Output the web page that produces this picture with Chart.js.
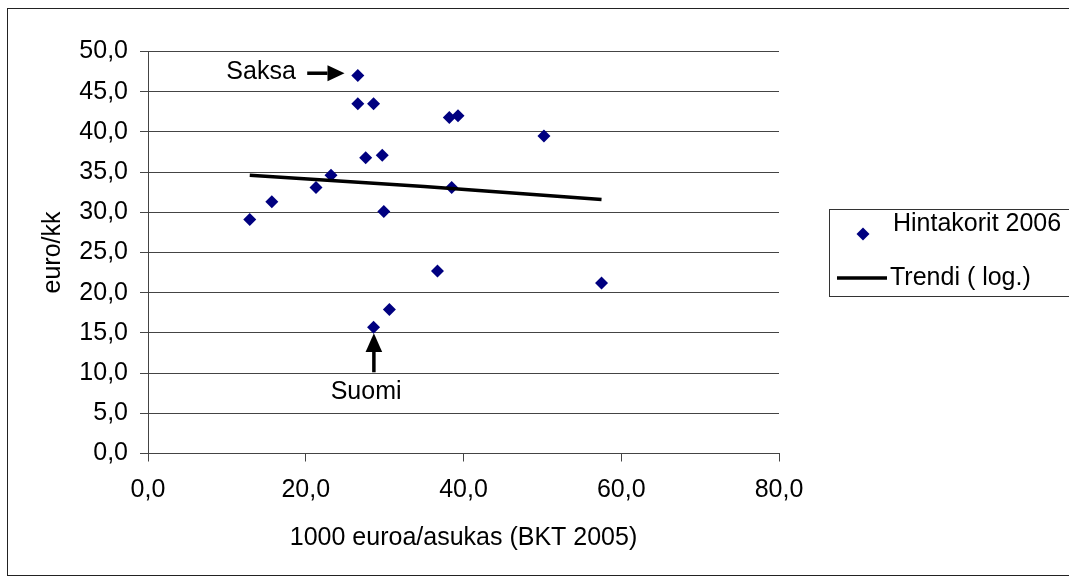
<!DOCTYPE html>
<html><head><meta charset="utf-8">
<script src="https://cdn.jsdelivr.net/npm/chart.js@4.4.1/dist/chart.umd.min.js"></script>
<style>html,body{margin:0;padding:0;background:#fff;}canvas{display:block;}</style>
</head><body>
<canvas id="c" width="1069" height="581"></canvas>
<script>
// GDP per capita (1000 EUR, 2005) and monthly price basket (EUR/month, 2006)
const gdpX = [12.9, 15.7, 21.3, 23.2, 26.6, 26.6, 28.6, 27.6, 29.7, 29.9, 38.2, 39.3, 38.5, 50.2, 36.7, 57.5, 30.6, 28.6];
const basketY = [29.1, 31.3, 33.1, 34.6, 47.0, 43.5, 43.5, 36.8, 37.1, 30.1, 41.8, 42.0, 33.1, 39.5, 22.7, 21.2, 17.9, 15.7];
// Logarithmic trend line as drawn in the original
const trendX = [12.9, 35, 57.5];
const trendY = [34.6, 33.2, 31.6];
const xTicks = [0, 20, 40, 60, 80];
const yTicks = [0, 5, 10, 15, 20, 25, 30, 35, 40, 45, 50];
const seriesNames = ['Hintakorit 2006', 'Trendi ( log.)'];
const xTitle = '1000 euroa/asukas (BKT 2005)';
const yTitle = 'euro/kk';
const calloutLabels = ['Saksa', 'Suomi'];
const calloutPoint = [4, 17];

const FONT = "'Liberation Sans', Arial, sans-serif";
const FSIZE = 25;
const fmt = v => Number(v).toFixed(1).replace('.', ',');
const NAVY = '#000080';
const GRID = '#444444';

function arrow(ctx, x1, y1, x2, y2, head, half) {
  const ang = Math.atan2(y2 - y1, x2 - x1);
  const bx = x2 - head * Math.cos(ang), by = y2 - head * Math.sin(ang);
  ctx.save();
  ctx.strokeStyle = '#000'; ctx.fillStyle = '#000'; ctx.lineWidth = 3.5;
  ctx.beginPath(); ctx.moveTo(x1, y1); ctx.lineTo(bx, by); ctx.stroke();
  ctx.beginPath();
  ctx.moveTo(x2, y2);
  ctx.lineTo(bx + half * Math.sin(ang), by - half * Math.cos(ang));
  ctx.lineTo(bx - half * Math.sin(ang), by + half * Math.cos(ang));
  ctx.closePath(); ctx.fill();
  ctx.restore();
}

const decor = {
  id: 'decor',
  afterDraw(chart) {
    const ctx = chart.ctx;
    const xs = chart.scales.x, ys = chart.scales.y;
    ctx.save();
    // outer frame
    ctx.strokeStyle = '#222'; ctx.lineWidth = 1;
    ctx.strokeRect(7.5, 8.5, 1080, 567);
    ctx.font = FSIZE + 'px ' + FONT;
    ctx.fillStyle = '#000';
    ctx.textBaseline = 'alphabetic';
    // callouts
    calloutLabels.forEach((lab, k) => {
      const i = calloutPoint[k];
      const px = xs.getPixelForValue(gdpX[i]);
      const py = ys.getPixelForValue(basketY[i]);
      if (k === 0) {
        ctx.textAlign = 'right';
        ctx.fillText(lab, px - 62, py + 3.6);
        arrow(ctx, px - 50.6, py - 2.4, px - 13.3, py - 2.4, 17, 8);
      } else {
        ctx.textAlign = 'center';
        ctx.fillText(lab, px - 7.5, py + 71.3);
        arrow(ctx, px + 0.3, py + 45, px + 0.3, py + 6, 18.7, 8.3);
      }
    });
    // legend
    ctx.strokeStyle = '#333'; ctx.lineWidth = 1;
    ctx.strokeRect(829.5, 209.5, 300, 87);
    ctx.fillStyle = NAVY;
    ctx.beginPath();
    ctx.moveTo(863 - 6.5, 234); ctx.lineTo(863, 234 - 6.5); ctx.lineTo(863 + 6.5, 234); ctx.lineTo(863, 234 + 6.5);
    ctx.closePath(); ctx.fill();
    ctx.strokeStyle = '#000'; ctx.lineWidth = 3.5;
    ctx.beginPath(); ctx.moveTo(837, 278); ctx.lineTo(887, 278); ctx.stroke();
    ctx.fillStyle = '#000'; ctx.textAlign = 'left';
    ctx.fillText(seriesNames[0], 893, 231);
    ctx.fillText(seriesNames[1], 890, 285);
    ctx.restore();
  }
};

new Chart(document.getElementById('c'), {
  type: 'scatter',
  data: {
    datasets: [
      {
        label: seriesNames[0],
        data: gdpX.map((x, i) => ({x: x, y: basketY[i]})),
        pointStyle: 'rectRot', pointRadius: 6.5, pointBorderWidth: 0,
        backgroundColor: NAVY, borderColor: NAVY, order: 1
      },
      {
        label: seriesNames[1],
        data: trendX.map((x, i) => ({x: x, y: trendY[i]})),
        showLine: true, pointRadius: 0, borderColor: '#000', borderWidth: 3.5,
        backgroundColor: '#000', tension: 0, order: 0
      }
    ]
  },
  options: {
    responsive: false, animation: false, devicePixelRatio: 1,
    layout: {padding: {left: 8, top: 51.5, right: 290, bottom: 8}},
    plugins: {legend: {display: false}, tooltip: {enabled: false}},
    scales: {
      x: {
        type: 'linear', min: 0, max: 80,
        afterBuildTicks: s => { s.ticks = xTicks.map(v => ({value: v})); },
        afterFit: s => { s.height = 581 - 8 - 453.5; },
        ticks: {callback: v => fmt(v), color: '#000', font: {family: FONT, size: FSIZE}, padding: 14, maxRotation: 0},
        grid: {drawOnChartArea: false, drawTicks: true, tickLength: 8, color: GRID, lineWidth: 1},
        border: {display: true, color: GRID, width: 1},
        title: {display: true, text: xTitle, color: '#000', font: {family: FONT, size: FSIZE}, padding: {top: 0, bottom: 19.6}}
      },
      y: {
        type: 'linear', min: 0, max: 50,
        afterBuildTicks: s => { s.ticks = yTicks.map(v => ({value: v})); },
        afterFit: s => { s.width = 140; },
        ticks: {callback: v => fmt(v), color: '#000', font: {family: FONT, size: FSIZE}, padding: 12},
        grid: {drawOnChartArea: true, drawTicks: true, tickLength: 8, color: GRID, lineWidth: 1},
        border: {display: true, color: GRID, width: 1},
        title: {display: true, text: yTitle, color: '#000', font: {family: FONT, size: FSIZE}, padding: {top: 30, bottom: 0}}
      }
    }
  },
  plugins: [decor]
});
</script>
</body></html>
